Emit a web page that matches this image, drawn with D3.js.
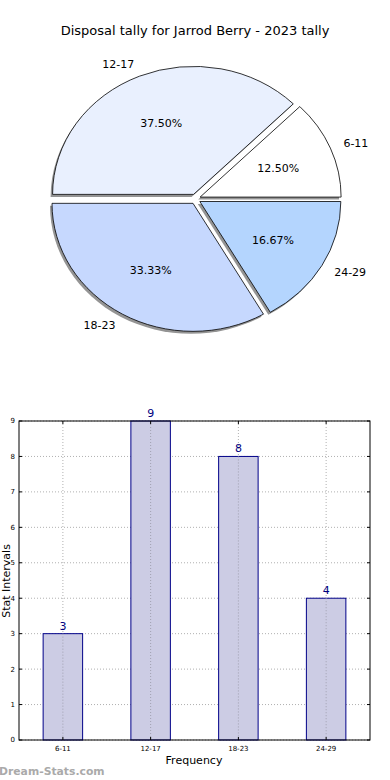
<!DOCTYPE html>
<html><head><meta charset="utf-8">
<script src="https://cdn.jsdelivr.net/npm/d3@7"></script>
<style>body{margin:0;background:#fff}svg{display:block;font-family:"DejaVu Sans",sans-serif}</style>
</head><body><svg id="c" width="390" height="780"></svg>
<script>
const categories = ["6-11","12-17","18-23","24-29"];
const values = [3,9,8,4];
const pieColors = ["#ffffff","#e9f0fe","#c6d8fe","#b4d5fe"];
const yTicks = [0,1,2,3,4,5,6,7,8,9];
const title = "Disposal tally for Jarrod Berry - 2023 tally";

const svg = d3.select("#c");
svg.append("text").attr("x",195).attr("y",35).attr("text-anchor","middle")
  .attr("font-size",13).text(title);

// Pie (elliptical, counterclockwise from 3 o'clock, exploded)
const cx = 195.5, cy = 199, rx = 141, ry = 128, explode = 5;
const pie = d3.pie().sort(null).value(d=>d).startAngle(Math.PI/2).endAngle(Math.PI/2 - 2*Math.PI);
const arcs = pie(values);
const total = d3.sum(values);
const arc = d3.arc().innerRadius(0).outerRadius(ry);
const sx = rx/ry;
const pg = svg.append("g");
function offs(a){
  const m = (a.startAngle + a.endAngle)/2;
  return [Math.sin(m)*explode, -Math.cos(m)*explode, m];
}
arcs.forEach((a,i)=>{
  const [dx,dy] = offs(a);
  pg.append("path").attr("d",arc(a))
    .attr("transform",`translate(${cx+dx-2},${cy+dy+2.5}) scale(${sx},1)`)
    .attr("fill","#000").attr("opacity",0.42);
});
arcs.forEach((a,i)=>{
  const [dx,dy,m] = offs(a);
  pg.append("path").attr("d",arc(a))
    .attr("transform",`translate(${cx+dx},${cy+dy}) scale(${sx},1)`)
    .attr("fill",pieColors[i]).attr("stroke","#000").attr("stroke-width",0.8)
    .attr("vector-effect","non-scaling-stroke");
  const px = cx+dx + Math.sin(m)*rx*0.6, py = cy+dy - Math.cos(m)*ry*0.6;
  pg.append("text").attr("x",px).attr("y",py).attr("text-anchor","middle").attr("dy","0.35em")
    .attr("font-size",11).text((values[i]/total*100).toFixed(2)+"%");
  const lx = cx+dx + Math.sin(m)*rx*1.1, ly = cy+dy - Math.cos(m)*ry*1.1;
  pg.append("text").attr("x",lx).attr("y",ly).attr("text-anchor", Math.sin(m)>0?"start":"end").attr("dy","0.35em")
    .attr("font-size",11).text(categories[i]);
});

// Bar chart
const L=19, R=370, T=421, B=740;
const x = d3.scaleLinear().domain([-0.5,3.5]).range([L,R]);
const y = d3.scaleLinear().domain([0,9]).range([B,T]);
const bw = 0.45;
const bg = svg.append("g");
yTicks.forEach(t=>{
  bg.append("line").attr("x1",L).attr("x2",R).attr("y1",y(t)).attr("y2",y(t))
    .attr("stroke","#b0b0b0").attr("stroke-dasharray","1,2").attr("stroke-width",1);
});
categories.forEach((c,i)=>{
  bg.append("line").attr("x1",x(i)).attr("x2",x(i)).attr("y1",T).attr("y2",B)
    .attr("stroke","#b0b0b0").attr("stroke-dasharray","1,2").attr("stroke-width",1);
});
categories.forEach((c,i)=>{
  bg.append("rect").attr("x",x(i-bw/2)).attr("width",x(bw)-x(0))
    .attr("y",y(values[i])).attr("height",y(0)-y(values[i]))
    .attr("fill","#cccce4").attr("stroke","#000088").attr("stroke-width",1);
  bg.append("line").attr("x1",x(i)).attr("x2",x(i)).attr("y1",y(values[i])).attr("y2",B)
    .attr("stroke","#a0a0b0").attr("stroke-dasharray","1,2").attr("stroke-width",1);
  bg.append("text").attr("x",x(i)).attr("y",y(values[i])-4).attr("text-anchor","middle")
    .attr("font-size",11).attr("fill","#000080").text(values[i]);
});
bg.append("rect").attr("x",L).attr("y",T).attr("width",R-L).attr("height",B-T)
  .attr("fill","none").attr("stroke","#000").attr("stroke-width",1);
yTicks.forEach(t=>{
  bg.append("line").attr("x1",L).attr("x2",L+3).attr("y1",y(t)).attr("y2",y(t)).attr("stroke","#000");
  bg.append("line").attr("x1",R-3).attr("x2",R).attr("y1",y(t)).attr("y2",y(t)).attr("stroke","#000");
  bg.append("text").attr("x",L-4).attr("y",y(t)).attr("dy","0.35em").attr("text-anchor","end")
    .attr("font-size",7).text(t);
});
categories.forEach((c,i)=>{
  bg.append("line").attr("x1",x(i)).attr("x2",x(i)).attr("y1",B-3).attr("y2",B).attr("stroke","#000");
  bg.append("line").attr("x1",x(i)).attr("x2",x(i)).attr("y1",T).attr("y2",T+3).attr("stroke","#000");
  bg.append("text").attr("x",x(i)).attr("y",B+11).attr("text-anchor","middle")
    .attr("font-size",7).text(c);
});
svg.append("text").attr("x",194).attr("y",764).attr("text-anchor","middle").attr("font-size",11).text("Frequency");
svg.append("text").attr("transform","translate(9.5,581) rotate(-90)").attr("text-anchor","middle")
  .attr("font-size",11).text("Stat Intervals");
svg.append("text").attr("x",-1).attr("y",775).attr("font-size",10.8).attr("font-weight","bold")
  .attr("fill","#aaaaaa").text("Dream-Stats.com");
</script></body></html>
